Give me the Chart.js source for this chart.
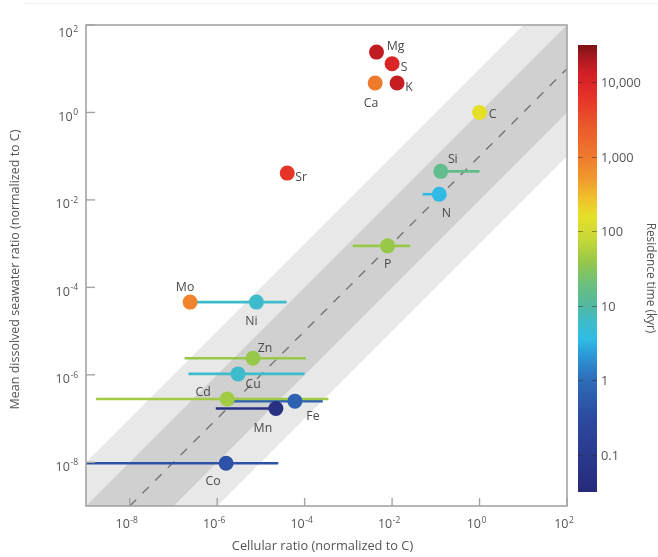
<!DOCTYPE html>
<html>
<head>
<meta charset="utf-8">
<script src="https://cdn.jsdelivr.net/npm/chart.js@4.4.1/dist/chart.umd.min.js"></script>
<style>
  html, body { margin: 0; padding: 0; background: #fff; }
  canvas { display: block; }
</style>
</head>
<body>
<canvas id="chart" width="658" height="557"></canvas>
<script>
// Elements and their ratios, normalized to carbon
const elements = ['Mg', 'S', 'K', 'Ca', 'C', 'Si', 'N', 'P', 'Sr', 'Mo', 'Ni', 'Zn', 'Cu', 'Cd', 'Fe', 'Mn', 'Co'];
const cellularRatio = [4.4e-3, 1.0e-2, 1.3e-2, 4.1e-3, 1, 0.13, 0.12, 7.9e-3, 4.0e-5, 2.4e-7, 7.9e-6, 6.6e-6, 3.0e-6, 1.7e-6, 6.0e-5, 2.2e-5, 1.6e-6];
const seawaterRatio = [24, 13, 4.7, 4.7, 1, 0.045, 0.0135, 8.9e-4, 0.041, 4.6e-5, 4.6e-5, 2.4e-6, 1.05e-6, 2.8e-7, 2.5e-7, 1.7e-7, 9.5e-9];
// Range of cellular ratios (null = no range shown)
const cellularLow = [null, null, null, null, null, 0.1, 0.05, 1.26e-3, null, null, 2.6e-7, 1.8e-7, 2.2e-7, 1.7e-9, 2.3e-6, 9.3e-7, 3e-10];
const cellularHigh = [null, null, null, null, null, 1.0, 0.16, 2.6e-2, null, null, 3.9e-5, 1.07e-4, 1.0e-4, 3.5e-4, 2.6e-4, 3.0e-5, 2.5e-5];
// Oceanic residence time, kyr
const residenceKyr = [16000, 10000, 15000, 1000, 160, 15, 3.5, 40, 6000, 800, 6, 40, 6, 45, 0.7, 0.05, 0.4];

// Axis ticks (powers of ten)
const axisTickExponents = [-8, -6, -4, -2, 0, 2];
const colorbarTicks = [10000, 1000, 100, 10, 1, 0.1];
const colorbarTickLabels = ['10,000', '1,000', '100', '10', '1', '0.1'];

// Label placement around each marker: [dx, dy] in pixels
const labelPlacement = {
  Mg: [19, -6], S: [12, 4], K: [12, 4], Ca: [-4, 20], C: [13, 2], Si: [12, -12],
  N: [7, 19], P: [0, 19], Sr: [14, 4], Mo: [-5, -15], Ni: [-5, 19], Zn: [12, -10],
  Cu: [15, 11], Cd: [-24, -7], Fe: [18, 15], Mn: [-13, 20], Co: [-13, 18]
};

// Residence-time colour scale (log10 kyr -> colour)
const cmapStops = [
  [-1.5, '#27297a'], [-1.0, '#2a3a8e'], [-0.5, '#2c4aa0'], [0.0, '#2e6cb8'],
  [0.35, '#2c9ad8'], [0.55, '#30bce6'], [0.8, '#40bcc8'], [1.0, '#52b8a0'],
  [1.3, '#6cc07c'], [1.6, '#98c848'], [1.9, '#c8d838'], [2.2, '#e6e028'],
  [2.45, '#f0c02c'], [2.7, '#f09a2e'], [3.0, '#ee7a2c'], [3.4, '#ea5a2a'],
  [3.8, '#e63228'], [4.1, '#d41f25'], [4.3, '#b01a20'], [4.5, '#7c1216']
];
function hexToRgb(h) { return [1, 3, 5].map(i => parseInt(h.substr(i, 2), 16)); }
function residenceColor(kyr) {
  const v = Math.log10(kyr);
  if (v <= cmapStops[0][0]) return cmapStops[0][1];
  for (let i = 1; i < cmapStops.length; i++) {
    if (v <= cmapStops[i][0]) {
      const [v0, c0] = cmapStops[i - 1], [v1, c1] = cmapStops[i];
      const t = (v - v0) / (v1 - v0);
      const a = hexToRgb(c0), b = hexToRgb(c1);
      const m = a.map((x, k) => Math.round(x + (b[k] - x) * t));
      return `rgb(${m[0]},${m[1]},${m[2]})`;
    }
  }
  return cmapStops[cmapStops.length - 1][1];
}

const AX_MIN = 1e-9, AX_MAX = 1e2;
const pointColors = residenceKyr.map(residenceColor);

// Bands around the reference line (y = x/10)
const bandLine = f => [{ x: AX_MIN, y: AX_MIN * f }, { x: AX_MAX, y: AX_MAX * f }];
const datasets = [
  { data: bandLine(10), showLine: true, fill: '+1', backgroundColor: '#e8e8e8', borderColor: 'rgba(0,0,0,0)', borderWidth: 0, pointRadius: 0, order: 30 },
  { data: bandLine(1e-3), showLine: true, fill: false, borderColor: 'rgba(0,0,0,0)', borderWidth: 0, pointRadius: 0, order: 29 },
  { data: bandLine(1), showLine: true, fill: '+1', backgroundColor: '#d0d0d0', borderColor: 'rgba(0,0,0,0)', borderWidth: 0, pointRadius: 0, order: 28 },
  { data: bandLine(1e-2), showLine: true, fill: false, borderColor: 'rgba(0,0,0,0)', borderWidth: 0, pointRadius: 0, order: 27 },
  { data: [{ x: 1e-8, y: 1e-9 }, { x: AX_MAX, y: AX_MAX / 10 }], showLine: true, fill: false, borderColor: '#747474', borderWidth: 1.4, borderDash: [9, 9], pointRadius: 0, order: 26 }
];

// Horizontal ranges of cellular ratio
elements.forEach((el, i) => {
  if (cellularLow[i] == null) return;
  datasets.push({
    data: [{ x: cellularLow[i], y: seawaterRatio[i] }, { x: cellularHigh[i], y: seawaterRatio[i] }],
    showLine: true, fill: false, borderColor: pointColors[i], borderWidth: 2.6,
    pointRadius: 0, order: 10
  });
});

// Element markers
datasets.push({
  label: 'elements',
  data: elements.map((el, i) => ({ x: cellularRatio[i], y: seawaterRatio[i] })),
  pointRadius: 7.5, pointBackgroundColor: pointColors, pointBorderWidth: 0,
  pointBorderColor: pointColors, order: 1
});

const FONT = '"Open Sans", "DejaVu Sans", sans-serif';
const TEXT = '#555555';

function drawPower(ctx, exp, x, baseline, align) {
  const base = '10', sup = (exp < 0 ? '-' : '') + Math.abs(exp);
  ctx.font = `12.5px ${FONT}`;
  const wb = ctx.measureText(base).width;
  ctx.font = `8.5px ${FONT}`;
  const ws = ctx.measureText(sup).width + 0.5;
  const w = wb + ws;
  const left = align === 'right' ? x - w : x - w / 2;
  ctx.textAlign = 'left';
  ctx.textBaseline = 'alphabetic';
  ctx.font = `12.5px ${FONT}`;
  ctx.fillText(base, left, baseline);
  ctx.font = `8.5px ${FONT}`;
  ctx.fillText(sup, left + wb + 0.5, baseline - 5.5);
}

const decorations = {
  id: 'decorations',
  afterDatasetsDraw(chart) {
    const { ctx, chartArea: a, scales: { x, y } } = chart;
    ctx.save();

    // faint rule across the top
    ctx.strokeStyle = '#f0f0f0';
    ctx.lineWidth = 1;
    ctx.beginPath(); ctx.moveTo(25, 3.5); ctx.lineTo(658, 3.5); ctx.stroke();

    // plot frame
    ctx.strokeStyle = '#a4a4a4';
    ctx.lineWidth = 1.6;
    ctx.strokeRect(a.left, a.top, a.right - a.left, a.bottom - a.top);

    // inward ticks and tick labels
    ctx.fillStyle = TEXT;
    ctx.strokeStyle = '#a4a4a4';
    ctx.lineWidth = 1.4;
    axisTickExponents.forEach(e => {
      const v = Math.pow(10, e);
      const px = x.getPixelForValue(v);
      ctx.beginPath(); ctx.moveTo(px, a.bottom); ctx.lineTo(px, a.bottom - 8); ctx.stroke();
      drawPower(ctx, e, px - 3, 528, 'center');
      const py = y.getPixelForValue(v);
      ctx.beginPath(); ctx.moveTo(a.left, py); ctx.lineTo(a.left + 9, py); ctx.stroke();
      const shift = (py - a.top < 4) ? 12 : 8.3;
      drawPower(ctx, e, 78, py + shift, 'right');
    });

    // axis titles
    ctx.fillStyle = TEXT;
    ctx.font = `12.8px ${FONT}`;
    ctx.textAlign = 'center';
    ctx.textBaseline = 'middle';
    ctx.fillText('Cellular ratio (normalized to C)', (a.left + a.right) / 2 - 4, 546);
    ctx.save();
    ctx.translate(15, (a.top + a.bottom) / 2 + 4);
    ctx.rotate(-Math.PI / 2);
    ctx.font = `12.5px ${FONT}`;
    ctx.fillText('Mean dissolved seawater ratio (normalized to C)', 0, 0);
    ctx.restore();

    // element labels
    const meta = chart.getDatasetMeta(chart.data.datasets.length - 1);
    ctx.font = `12.3px ${FONT}`;
    ctx.fillStyle = '#4a4a4a';
    ctx.textAlign = 'center';
    ctx.textBaseline = 'middle';
    elements.forEach((el, i) => {
      const pt = meta.data[i];
      const [dx, dy] = labelPlacement[el];
      ctx.fillText(el, pt.x + dx, pt.y + dy);
    });

    // residence-time colour bar
    const cbL = 578, cbR = 597, cbT = 45, cbB = 492;
    const lgTop = 4.5, lgBot = -1.5;
    const cbY = v => cbT + (lgTop - Math.log10(v)) / (lgTop - lgBot) * (cbB - cbT);
    for (let py = cbT; py < cbB; py++) {
      const lg = lgTop - (py + 0.5 - cbT) / (cbB - cbT) * (lgTop - lgBot);
      ctx.fillStyle = residenceColor(Math.pow(10, lg));
      ctx.fillRect(cbL, py, cbR - cbL, 1);
    }
    ctx.strokeStyle = 'rgba(40,40,40,0.45)';
    ctx.lineWidth = 1;
    ctx.font = `12.8px ${FONT}`;
    ctx.textAlign = 'left';
    ctx.textBaseline = 'middle';
    colorbarTicks.forEach((v, k) => {
      const py = Math.round(cbY(v)) + 0.5;
      ctx.beginPath();
      ctx.moveTo(cbL, py); ctx.lineTo(cbL + 5, py);
      ctx.moveTo(cbR - 5, py); ctx.lineTo(cbR, py);
      ctx.stroke();
      ctx.fillStyle = TEXT;
      ctx.fillText(colorbarTickLabels[k], cbR + 4, py + 1);
    });
    ctx.save();
    ctx.font = `11.8px ${FONT}`;
    ctx.fillStyle = TEXT;
    ctx.textAlign = 'center';
    ctx.translate(650, 278);
    ctx.rotate(Math.PI / 2);
    ctx.fillText('Residence time (kyr)', 0, 0);
    ctx.restore();

    ctx.restore();
  }
};

const logAxis = {
  type: 'logarithmic', min: AX_MIN, max: AX_MAX,
  grid: { display: false }, border: { display: false },
  ticks: { display: false }
};

new Chart(document.getElementById('chart'), {
  type: 'scatter',
  data: { datasets },
  options: {
    responsive: false,
    animation: false,
    devicePixelRatio: 1,
    layout: { padding: { left: 0, top: 25, right: 91, bottom: 0 } },
    scales: {
      x: Object.assign({}, logAxis, { afterFit(s) { s.height = 51; } }),
      y: Object.assign({}, logAxis, { afterFit(s) { s.width = 86; } })
    },
    plugins: { legend: { display: false }, tooltip: { enabled: false } }
  },
  plugins: [decorations]
});
</script>
</body>
</html>
